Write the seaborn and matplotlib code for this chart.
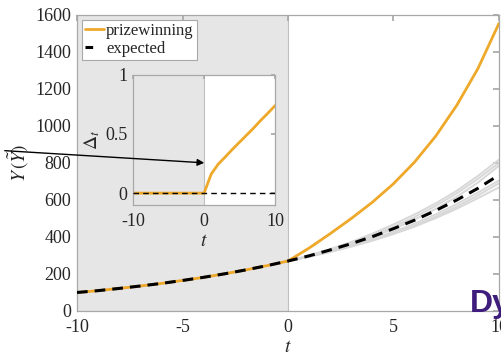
import numpy as np
import pandas as pd
import matplotlib
matplotlib.use('Agg')
import matplotlib.pyplot as plt
import seaborn as sns

sns.set_theme(style='white')
plt.rcParams['font.family'] = ['Liberation Serif', 'DejaVu Serif']
plt.rcParams['mathtext.fontset'] = 'stix'
plt.rcParams['axes.unicode_minus'] = False

# data
t = list(range(-10, 11))
expected = [100, 110, 122, 135, 149, 165, 182, 201, 222, 245, 270,
            298, 330, 364, 402, 445, 491, 543, 600, 663, 735]
prizewinning = [100, 110, 122, 135, 149, 165, 182, 201, 222, 245, 270,
                340, 418, 500, 588, 688, 805, 945, 1112, 1310, 1555]
t_sim = list(range(0, 11))
sims = [
    [270, 300, 335, 373, 418, 468, 522, 582, 650, 730, 818],
    [270, 298, 330, 366, 408, 455, 508, 568, 636, 714, 800],
    [270, 296, 327, 361, 400, 444, 494, 552, 618, 694, 785],
    [270, 294, 320, 350, 383, 420, 462, 510, 564, 625, 690],
    [270, 295, 323, 354, 389, 428, 472, 522, 578, 640, 705],
    [270, 293, 319, 348, 380, 416, 456, 502, 553, 610, 668],
]
delta = [0, 0, 0, 0, 0, 0, 0, 0, 0, 0, 0,
         0.16, 0.245, 0.306, 0.37, 0.43, 0.49, 0.55, 0.615, 0.675, 0.738]
zero_line = [0] * len(t)

df = pd.DataFrame({'t': t, 'expected': expected, 'prizewinning': prizewinning,
                   'delta': delta, 'zero': zero_line})

orange = '#EEA82A'
spine_col = '#a8a8a8'
shade = '#e6e6e6'
fs = 13

fig = plt.figure(figsize=(5.02, 3.57), dpi=100)
ax = fig.add_axes([0.1534, 0.1289, 0.8406, 0.8291])

ax.axvspan(-10, 0, color=shade, zorder=0, lw=0)
ax.axvline(0, color='#c0c0c0', lw=0.8, zorder=0.5)

for s in sims:
    sns.lineplot(x=t_sim, y=s, color='#d8d8d8', lw=1.4, ax=ax, zorder=1)
sns.lineplot(data=df, x='t', y='prizewinning', color=orange, lw=2, ax=ax,
             zorder=2, label='prizewinning')
sns.lineplot(data=df, x='t', y='expected', color='black', lw=2.2, ax=ax,
             zorder=3, label='expected', dashes=False)
ax.lines[-1].set_dashes((3.5, 2.3))

ax.set_xlim(-10, 10)
ax.set_ylim(0, 1600)
ax.set_xticks([-10, -5, 0, 5, 10])
ax.set_yticks(range(0, 1601, 200))
ax.set_xlabel('$t$', fontsize=fs + 1, labelpad=2)
ax.set_ylabel(r'$Y\,(\tilde{Y})$', fontsize=fs + 1, labelpad=3)
ax.tick_params(direction='in', length=4, color=spine_col, labelsize=fs,
               top=True, right=True)
ax.tick_params(axis='x', pad=6)
ax.tick_params(axis='y', pad=4)
for sp in ax.spines.values():
    sp.set_color(spine_col)
    sp.set_linewidth(0.9)

leg = ax.legend(loc='upper left', bbox_to_anchor=(0.0, 1.0), fontsize=12,
                frameon=True, fancybox=False, framealpha=1,
                edgecolor=spine_col, handlelength=1.1, handletextpad=0.15,
                borderpad=0.2, labelspacing=0.1, borderaxespad=0.3)
leg.get_frame().set_linewidth(0.8)
leg.get_lines()[1].set_dashes((2.5, 6))

# inset
ins = fig.add_axes([0.265, 0.4258, 0.283, 0.3655])
ins.set_facecolor('white')
ins.axvspan(-10, 0, color=shade, zorder=0, lw=0)
ins.axvline(0, color='#c0c0c0', lw=0.8, zorder=0.5)
sns.lineplot(data=df, x='t', y='delta', color=orange, lw=2, ax=ins, zorder=2)
sns.lineplot(data=df, x='t', y='zero', color='black', lw=1, ax=ins, zorder=3)
ins.lines[-1].set_dashes((4, 3))
ins.set_xlim(-10, 10)
ins.set_ylim(-0.1, 1)
ins.set_xticks([-10, 0, 10])
ins.set_yticks([0, 0.5, 1])
ins.set_yticklabels(['0', '0.5', '1'])
ins.set_xlabel('$t$', fontsize=fs + 1, labelpad=2)
ins.set_ylabel(r'$\Delta_t$', fontsize=fs + 1, labelpad=2)
ins.tick_params(direction='in', length=3, color=spine_col, labelsize=fs,
                top=True, right=True)
ins.tick_params(axis='x', pad=6)
ins.tick_params(axis='y', pad=4)
for sp in ins.spines.values():
    sp.set_color(spine_col)
    sp.set_linewidth(0.9)

# arrow from the y label into the inset (drawn with the inset so it sits on top)
ins.annotate('', xy=(207 / 502, 1 - 163 / 357), xycoords='figure fraction',
             xytext=(2 / 502, 1 - 150.5 / 357), textcoords='figure fraction',
             arrowprops=dict(arrowstyle='-|>', color='black', lw=1,
                             mutation_scale=10), annotation_clip=False, zorder=10)

fig.text(470 / 502, 1 - 312 / 357, 'Dy', fontsize=23, fontweight='bold',
         color='#3F1D7C', family='Liberation Sans', ha='left', va='baseline')

fig.savefig('out.png', dpi=100)
